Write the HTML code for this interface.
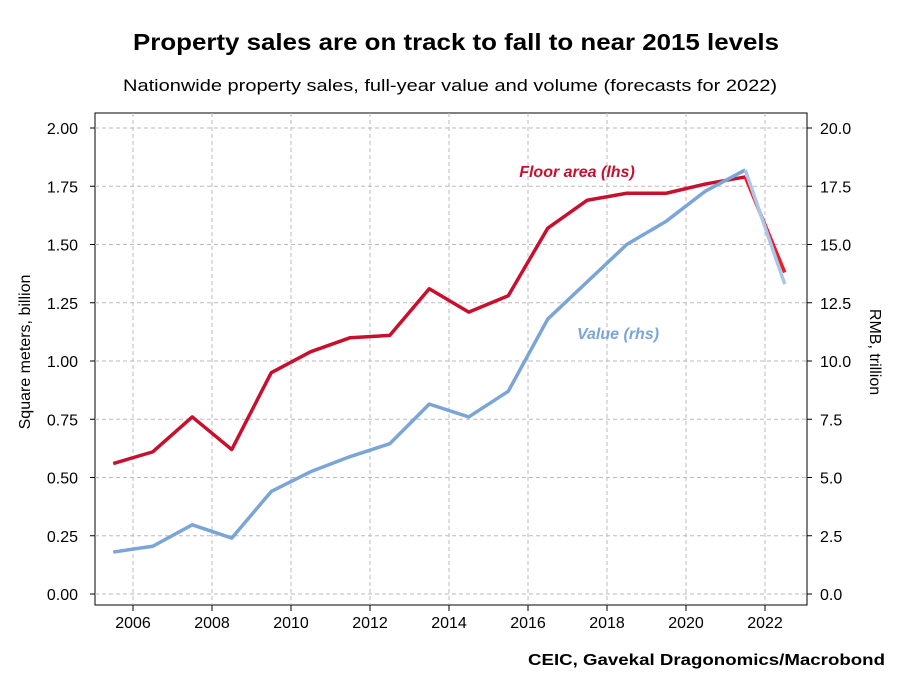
<!DOCTYPE html>
<html><head><meta charset="utf-8"><style>
body{margin:0;background:#fff;width:912px;height:684px;overflow:hidden;font-family:"Liberation Sans",sans-serif;}
</style></head><body>
<svg id="c" width="912" height="684" font-family="Liberation Sans, sans-serif">
<text x="133" y="50" font-size="23" font-weight="bold" textLength="646" lengthAdjust="spacingAndGlyphs">Property sales are on track to fall to near 2015 levels</text>
<text x="123" y="91" font-size="17" textLength="654" lengthAdjust="spacingAndGlyphs">Nationwide property sales, full-year value and volume (forecasts for 2022)</text>
<rect x="95" y="113" width="712" height="492" fill="none" stroke="#000" stroke-width="1"/>
<g id="grid"></g><g id="ticks"></g><g id="series"></g>
<text transform="translate(30,352) rotate(-90)" text-anchor="middle" font-size="16">Square meters, billion</text>
<text transform="translate(870,352) rotate(90)" text-anchor="middle" font-size="16">RMB, trillion</text>
<text x="577" y="177" text-anchor="middle" font-size="16" font-style="italic" font-weight="bold" fill="#c8102e">Floor area (lhs)</text>
<text x="618" y="339" text-anchor="middle" font-size="16" font-style="italic" font-weight="bold" fill="#7aa5d6">Value (rhs)</text>
<text x="528" y="665" font-size="16" font-weight="bold" textLength="357" lengthAdjust="spacingAndGlyphs">CEIC, Gavekal Dragonomics/Macrobond</text>
</svg>
<script>
const years=[2005,2006,2007,2008,2009,2010,2011,2012,2013,2014,2015,2016,2017,2018,2019,2020,2021,2022];
const floorArea=[0.56,0.61,0.76,0.62,0.95,1.04,1.10,1.11,1.31,1.21,1.28,1.57,1.69,1.72,1.72,1.76,1.79,1.38];
const salesValue=[1.8,2.05,2.97,2.4,4.4,5.25,5.9,6.45,8.15,7.6,8.7,11.8,13.4,15.0,16.0,17.3,18.2,13.3];
const leftTicks=[0,0.25,0.5,0.75,1.0,1.25,1.5,1.75,2.0];
const rightTicks=[0,2.5,5,7.5,10,12.5,15,17.5,20];
const xTicks=[2006,2008,2010,2012,2014,2016,2018,2020,2022];
const NS="http://www.w3.org/2000/svg";
const x=v=>133+(v-2006)*39.5;
const xm=yr=>x(yr+0.5);
const yl=v=>594-v*233;
const yr=v=>594-v*23.3;
function mk(t,a,p){const e=document.createElementNS(NS,t);for(const k in a)e.setAttribute(k,a[k]);p.appendChild(e);return e;}
const grid=document.getElementById('grid'),ticks=document.getElementById('ticks'),ser=document.getElementById('series');
leftTicks.forEach((v,i)=>{
 const g=mk('line',{x1:95,x2:807,y1:yl(v),y2:yl(v),stroke:'#bbb','stroke-dasharray':'4,3'},grid);
 
 
 const t=mk('text',{x:78,y:yl(v)+6,'text-anchor':'end','font-size':16},ticks);t.textContent=v.toFixed(2);
 
 
 const r=mk('text',{x:820,y:yr(rightTicks[i])+6,'font-size':16},ticks);r.textContent=rightTicks[i].toFixed(1);
 
 
 mk('line',{x1:95,x2:90,y1:yl(v),y2:yl(v),stroke:'#000'},ticks);
 mk('line',{x1:807,x2:812,y1:yl(v),y2:yl(v),stroke:'#000'},ticks);
});
xTicks.forEach(v=>{
 const g=mk('line',{x1:x(v),x2:x(v),y1:113,y2:605,stroke:'#bbb','stroke-dasharray':'4,3'},grid);
 
 
 mk('line',{x1:x(v),x2:x(v),y1:605,y2:611,stroke:'#000'},ticks);
 const t=mk('text',{x:x(v),y:628,'text-anchor':'middle','font-size':16},ticks);t.textContent=v;
 
 
});
function line(vals,yf,col,fc,name){
 const n=vals.length;
 const pts=vals.slice(0,n-1).map((v,i)=>xm(years[i])+','+yf(v)).join(' ');
 const p=mk('polyline',{points:pts,fill:'none',stroke:col,'stroke-width':3.5,'stroke-linejoin':'round'},ser);
 
 
 const f=mk('line',{x1:xm(years[n-2]),y1:yf(vals[n-2]),x2:xm(years[n-1]),y2:yf(vals[n-1]),stroke:fc,'stroke-width':3.5},ser);
 
 
}
line(floorArea,yl,'#c8102e','#ee1c25','floor-area');
line(salesValue,yr,'#7aa5d6','#a9c7e8','value');
</script>
</body></html>
